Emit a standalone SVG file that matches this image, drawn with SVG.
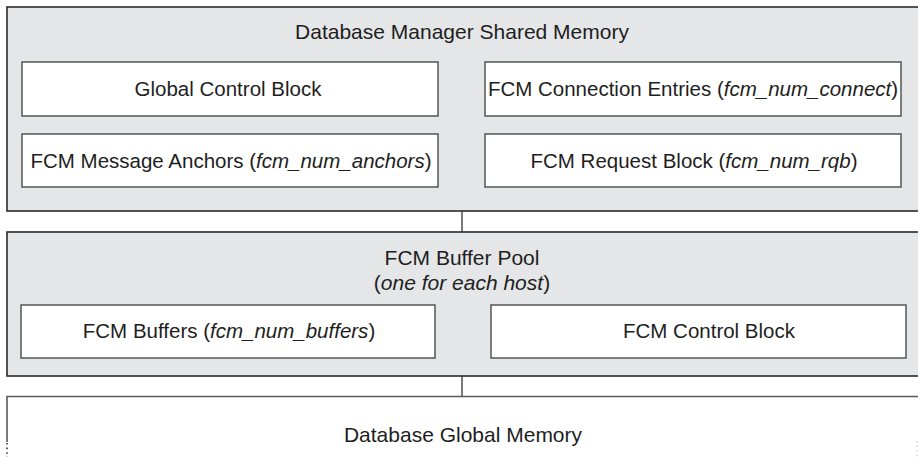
<svg xmlns="http://www.w3.org/2000/svg" width="918" height="457" viewBox="0 0 918 457">
  <style>
    .region { fill: #e5e6e8; stroke: #2b2b2b; stroke-width: 1.6; }
    .block { fill: #ffffff; stroke: #4a4a4a; stroke-width: 1.4; }
    .label { font-family: "Liberation Sans", Arial, Helvetica, sans-serif; font-size: 20.5px; fill: #1e1e1e; text-anchor: middle; }
    .title { font-size: 21px; }
    .param { font-style: italic; }
    .link { stroke: #7a7a7a; stroke-width: 2; fill: none; }
  </style>

  <rect x="0" y="0" width="918" height="457" fill="#ffffff"/>

  <!-- connectors between memory sets -->
  <g id="connectors">
    <line class="link" x1="462" y1="211" x2="462" y2="232"/>
    <line class="link" x1="462" y1="376" x2="462" y2="396"/>
  </g>

  <!-- Database manager shared memory -->
  <g id="dbm-shared-memory">
    <rect class="region" x="7" y="7" width="915" height="204"/>
    <text class="label title" x="462" y="39">Database Manager Shared Memory</text>
  </g>
  <g id="global-control-block">
    <rect class="block" x="22" y="62" width="416" height="54"/>
    <text class="label" x="228" y="96">Global Control Block</text>
  </g>
  <g id="fcm-connection-entries">
    <rect class="block" x="485" y="62" width="416" height="54"/>
    <text class="label" x="693" y="96">FCM Connection Entries (<tspan class="param">fcm_num_connect</tspan>)</text>
  </g>
  <g id="fcm-message-anchors">
    <rect class="block" x="22" y="134" width="416" height="53"/>
    <text class="label" x="231" y="168">FCM Message Anchors (<tspan class="param">fcm_num_anchors</tspan>)</text>
  </g>
  <g id="fcm-request-block">
    <rect class="block" x="485" y="134" width="416" height="53"/>
    <text class="label" x="694" y="168">FCM Request Block (<tspan class="param">fcm_num_rqb</tspan>)</text>
  </g>

  <!-- FCM buffer pool -->
  <g id="fcm-buffer-pool">
    <rect class="region" x="7" y="232" width="915" height="144"/>
    <text class="label title" x="462" y="265">FCM Buffer Pool</text>
    <text class="label title" x="462" y="290">(<tspan class="param">one for each host</tspan>)</text>
  </g>
  <g id="fcm-buffers">
    <rect class="block" x="21" y="305" width="414" height="53"/>
    <text class="label" x="229" y="338">FCM Buffers (<tspan class="param">fcm_num_buffers</tspan>)</text>
  </g>
  <g id="fcm-control-block">
    <rect class="block" x="491" y="305" width="415" height="53"/>
    <text class="label" x="709" y="338">FCM Control Block</text>
  </g>

  <!-- Database global memory (continues below) -->
  <g id="db-global-memory">
    <path d="M7 442 V396.5 H922" fill="none" stroke="#5a5a5a" stroke-width="1.6"/>
    <line x1="7" y1="443" x2="7" y2="457" stroke="#3a3a3a" stroke-width="1.6" stroke-dasharray="1.6 3"/>
    <line x1="917" y1="441" x2="917" y2="457" stroke="#c4c4c4" stroke-width="1.2" stroke-dasharray="1.2 3.5"/>
    <text class="label title" x="463" y="442">Database Global Memory</text>
  </g>
</svg>
